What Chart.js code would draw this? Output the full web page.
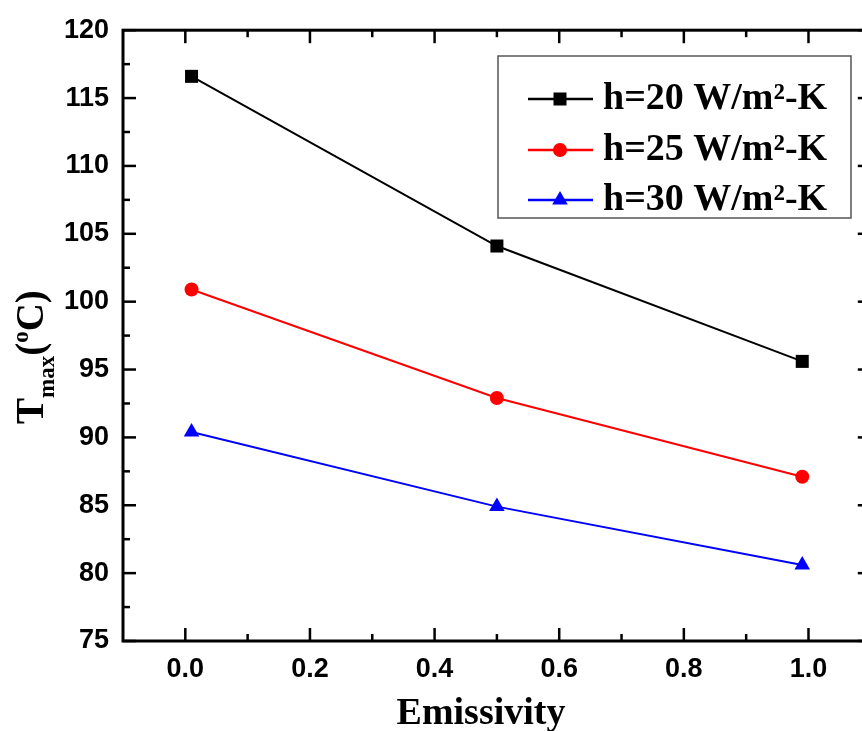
<!DOCTYPE html>
<html>
<head>
<meta charset="utf-8">
<script src="https://cdn.jsdelivr.net/npm/chart.js"></script>
<style>
  html, body { margin: 0; padding: 0; background: #fff; overflow: hidden; }
  #wrap { width: 880px; height: 731px; }
</style>
</head>
<body>
<div id="wrap"><canvas id="tmax-chart" width="880" height="731"></canvas></div>
<script>
// datos
const emissivity = [0.01, 0.5, 0.99];
const tmaxH20 = [116.6, 104.1, 95.6];
const tmaxH25 = [100.9, 92.9, 87.1];
const tmaxH30 = [90.4, 84.9, 80.6];

const seriesLabels = ['h=20 W/m\u00B2-K', 'h=25 W/m\u00B2-K', 'h=30 W/m\u00B2-K'];
const seriesColors = ['#000000', '#ff0000', '#0000ff'];
const seriesMarkers = ['rect', 'circle', 'triangle'];

const xMajorTicks = [0.0, 0.2, 0.4, 0.6, 0.8, 1.0];
const xMinorTicks = [0.1, 0.3, 0.5, 0.7, 0.9];
const yMajorTicks = [75, 80, 85, 90, 95, 100, 105, 110, 115, 120];
const yMinorTicks = [77.5, 82.5, 87.5, 92.5, 97.5, 102.5, 107.5, 112.5, 117.5];

const canvas = document.getElementById('tmax-chart');

function toPoints(ys) {
  return emissivity.map((x, i) => ({ x: x, y: ys[i] }));
}

function markerPath(ctx, style, x, y) {
  ctx.beginPath();
  if (style === 'rect') {
    ctx.rect(x - 6.5, y - 6.5, 13, 13);
  } else if (style === 'circle') {
    ctx.arc(x, y, 7, 0, Math.PI * 2);
  } else {
    ctx.moveTo(x, y - 9);
    ctx.lineTo(x + 7.8, y + 4.5);
    ctx.lineTo(x - 7.8, y + 4.5);
    ctx.closePath();
  }
}

// marco, ticks hacia adentro, titulos y leyenda
const framePlugin = {
  id: 'frame',
  afterDraw(chart) {
    const ctx = chart.ctx;
    const a = chart.chartArea;
    const xs = chart.scales.x;
    const ys = chart.scales.y;
    ctx.save();
    ctx.strokeStyle = '#000';
    ctx.lineWidth = 3;
    ctx.strokeRect(a.left, a.top, a.right - a.left, a.bottom - a.top);

    ctx.lineWidth = 2.5;
    const tick = (x1, y1, x2, y2) => { ctx.beginPath(); ctx.moveTo(x1, y1); ctx.lineTo(x2, y2); ctx.stroke(); };
    xMajorTicks.forEach(v => {
      const px = xs.getPixelForValue(v);
      tick(px, a.bottom, px, a.bottom - 13);
      tick(px, a.top, px, a.top + 13);
    });
    xMinorTicks.forEach(v => {
      const px = xs.getPixelForValue(v);
      tick(px, a.bottom, px, a.bottom - 7);
      tick(px, a.top, px, a.top + 7);
    });
    yMajorTicks.forEach(v => {
      const py = ys.getPixelForValue(v);
      tick(a.left, py, a.left + 13, py);
      tick(a.right, py, a.right - 13, py);
    });
    yMinorTicks.forEach(v => {
      const py = ys.getPixelForValue(v);
      tick(a.left, py, a.left + 7, py);
      tick(a.right, py, a.right - 7, py);
    });

    // titulo eje x
    ctx.fillStyle = '#000';
    ctx.textAlign = 'center';
    ctx.textBaseline = 'alphabetic';
    ctx.font = 'bold 38px "Liberation Serif", "Times New Roman", serif';
    ctx.fillText('Emissivity', 481, 724);

    // titulo eje y: T_max(°C)
    ctx.save();
    ctx.translate(43, 424);
    ctx.rotate(-Math.PI / 2);
    ctx.textAlign = 'left';
    let cx = 0;
    const big = 'bold 39px "Liberation Serif", "Times New Roman", serif';
    const small = 'bold 23px "Liberation Serif", "Times New Roman", serif';
    ctx.font = big; ctx.fillText('T', cx, 0); cx += ctx.measureText('T').width;
    ctx.font = small; ctx.fillText('max', cx, 11); cx += ctx.measureText('max').width;
    ctx.font = big; ctx.fillText('(', cx, 0); cx += ctx.measureText('(').width;
    ctx.font = small; ctx.fillText('o', cx, -15); cx += ctx.measureText('o').width;
    ctx.font = big; ctx.fillText('C)', cx, 0);
    ctx.restore();

    // leyenda
    ctx.strokeStyle = '#555';
    ctx.lineWidth = 1.5;
    ctx.strokeRect(498, 56, 353, 162);
    const rows = [99, 150, 200];
    ctx.font = 'bold 38px "Liberation Serif", "Times New Roman", serif';
    ctx.textAlign = 'left';
    seriesLabels.forEach((label, i) => {
      const y = rows[i];
      ctx.strokeStyle = seriesColors[i];
      ctx.lineWidth = 2.5;
      tick(528, y, 593, y);
      ctx.fillStyle = seriesColors[i];
      markerPath(ctx, seriesMarkers[i], 560, y);
      ctx.fill();
      ctx.fillStyle = '#000';
      ctx.fillText(label, 603, y + 10);
    });
    ctx.restore();
  }
};

const datasets = [tmaxH20, tmaxH25, tmaxH30].map((ys, i) => ({
  label: seriesLabels[i],
  data: toPoints(ys),
  showLine: true,
  borderColor: seriesColors[i],
  backgroundColor: seriesColors[i],
  borderWidth: 2,
  pointStyle: seriesMarkers[i],
  pointRadius: seriesMarkers[i] === 'rect' ? 9.2 : (seriesMarkers[i] === 'circle' ? 7 : 9),
  pointBorderWidth: 0,
  clip: false
}));

new Chart(canvas, {
  type: 'scatter',
  data: { datasets: datasets },
  options: {
    responsive: false,
    animation: false,
    layout: { padding: { left: 0, top: 30, right: 9, bottom: 0 } },
    plugins: {
      legend: { display: false },
      tooltip: { enabled: false }
    },
    scales: {
      x: {
        type: 'linear',
        min: -0.1,
        max: 1.1,
        grid: { display: false, drawTicks: false },
        border: { display: false },
        afterBuildTicks: s => { s.ticks = xMajorTicks.map(v => ({ value: v })); },
        afterFit: s => { s.height = 90; },
        ticks: {
          padding: 12,
          color: '#000',
          font: { family: '"Liberation Sans", Arial, sans-serif', size: 27, weight: 'bold' },
          callback: v => Number(v).toFixed(1)
        }
      },
      y: {
        min: 75,
        max: 120,
        grid: { display: false, drawTicks: false },
        border: { display: false },
        afterBuildTicks: s => { s.ticks = yMajorTicks.map(v => ({ value: v })); },
        afterFit: s => { s.width = 123; },
        ticks: {
          padding: 14,
          color: '#000',
          font: { family: '"Liberation Sans", Arial, sans-serif', size: 27, weight: 'bold' },
          callback: v => String(v)
        }
      }
    }
  },
  plugins: [framePlugin]
});
</script>
</body>
</html>
